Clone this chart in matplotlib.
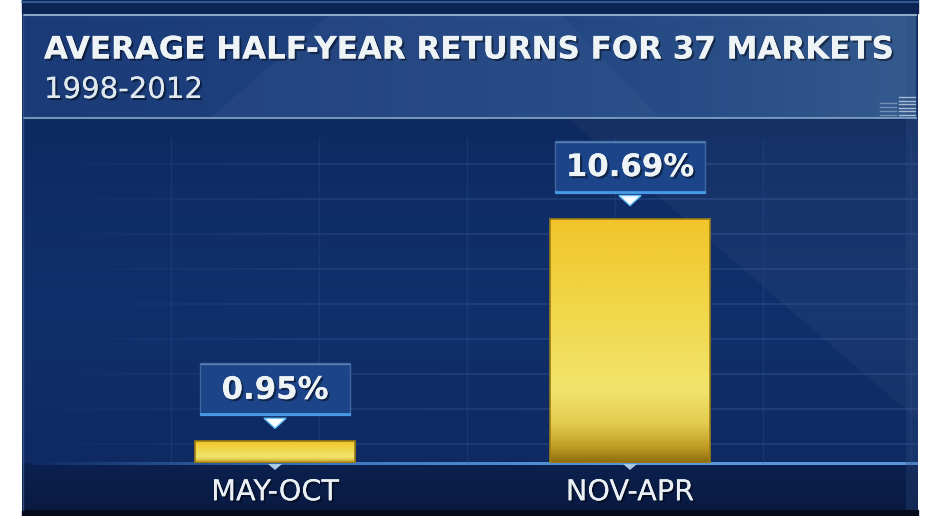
import numpy as np
import matplotlib
matplotlib.use("Agg")
import matplotlib.pyplot as plt
from matplotlib.colors import LinearSegmentedColormap
from matplotlib.patches import Rectangle, Polygon
import matplotlib.patheffects as pe

# data
categories = ["MAY-OCT", "NOV-APR"]
returns = [0.95, 10.69]
title = "AVERAGE HALF-YEAR RETURNS FOR 37 MARKETS"
subtitle = "1998-2012"

W, H = 939, 516
fig = plt.figure(figsize=(W / 100, H / 100), dpi=100, facecolor="white")

# background layer in pixel coords (y down)
bg = fig.add_axes([0, 0, 1, 1])
bg.set_xlim(0, W)
bg.set_ylim(H, 0)
bg.axis("off")


def vgrad(ax, x0, x1, y0, y1, colors, **kw):
    cm = LinearSegmentedColormap.from_list("g", colors)
    g = np.linspace(0, 1, 256).reshape(-1, 1)
    return ax.imshow(g, extent=(x0, x1, y1, y0), cmap=cm, aspect="auto",
                     origin="upper", interpolation="bilinear", **kw)


def hgrad(ax, x0, x1, y0, y1, colors, **kw):
    cm = LinearSegmentedColormap.from_list("h", colors)
    g = np.linspace(0, 1, 256).reshape(1, -1)
    return ax.imshow(g, extent=(x0, x1, y1, y0), cmap=cm, aspect="auto",
                     origin="upper", interpolation="bilinear", **kw)


# navy panel
vgrad(bg, 22, 918, 0, 463, ["#0b2250", "#0f2b63", "#11306b", "#0f2a62"])
vgrad(bg, 22, 918, 463, 510, ["#0c2150", "#091a42"])
bg.add_patch(Rectangle((22, 510), 896, 6, color="#050c1e"))
# light beam on the right
bg.add_patch(Polygon([(570, 120), (918, 120), (918, 420)],
                     closed=True, color="white", alpha=0.035, lw=0))
# top band
bg.add_patch(Rectangle((22, 0), 896, 13, color="#0c2455"))
bg.plot([22, 918], [2, 2], color="#3f70a8", lw=1.5, alpha=0.7)

# header panel
hgrad(bg, 24, 916, 14, 118, ["#1b3b78", "#1d407d", "#244984", "#34598d"])
bg.add_patch(Polygon([(330, 14), (560, 14), (660, 118), (210, 118)],
                     closed=True, color="white", alpha=0.03, lw=0))
bg.plot([24, 916], [15, 15], color="#a8c4dc", lw=1.5, alpha=0.8)
bg.plot([24, 916], [118, 118], color="#7da0c4", lw=1.5, alpha=0.9)
bg.plot([23, 23], [14, 510], color="#4c6e9c", lw=1, alpha=0.6)
bg.add_patch(Rectangle((906, 14), 12, 496, color="#2c4c80", alpha=0.3, lw=0))
# little bar icon in the corner
for k in range(4):
    bg.plot([880, 896], [103 + 4 * k, 103 + 4 * k], color="#9fb6cf", lw=1, alpha=0.6)
for k in range(6):
    bg.plot([899, 915], [97 + 3.5 * k, 97 + 3.5 * k], color="#c5d6e6", lw=1, alpha=0.8)

shadow = [pe.withSimplePatchShadow(offset=(1.5, -1.5), shadow_rgbFace="black", alpha=0.45),
          pe.Normal()]
bg.text(44, 50, title, color="#eef3f6", fontsize=22.3, fontweight="bold",
        family="DejaVu Sans", va="center", ha="left", path_effects=shadow)
bg.text(44, 90, subtitle, color="#dfe8ee", fontsize=21, family="DejaVu Sans",
        va="center", ha="left", path_effects=shadow)

# grid (decorative, fades out on the left)
for gy in np.arange(164, 463, 35):
    hgrad(bg, 22, 918, gy - 0.6, gy + 0.6, ["#0f2b63", "#2a4c88", "#2f5290", "#2f5290"],
          alpha=0.45)
for gx in np.arange(171, 918, 148):
    bg.plot([gx, gx], [138, 463], color="#2f5290", lw=1, alpha=0.3)

# baseline glow
hgrad(bg, 30, 918, 462, 465, ["#0f2a62", "#3d78c0", "#5a96d8", "#5a96d8"])

# chart axes
ax = fig.add_axes([22 / W, (H - 463) / H, 896 / W, 343 / H])
ax.patch.set_alpha(0)
x = np.arange(len(categories))
bar_w = 160 / 355
xlim = (-253 / 355, 1 + 288 / 355)
ylim = (0, 15)

bars = ax.bar(x, returns, width=bar_w, color="none", edgecolor="#9c7c16",
              linewidth=1.2, zorder=3)
bar_cm = LinearSegmentedColormap.from_list(
    "bar", [(0, "#f1c52a"), (0.4, "#f1d84c"), (0.7, "#f1e46d"), (0.84, "#e3cc50"),
            (0.94, "#bf9a22"), (1, "#8c6c10")])
grad = np.linspace(0, 1, 256).reshape(-1, 1)
for xi, v, patch in zip(x, returns, bars):
    im = ax.imshow(grad, extent=(xi - bar_w / 2, xi + bar_w / 2, 0, v), cmap=bar_cm,
                   aspect="auto", origin="upper", zorder=2)
    im.set_clip_path(patch)

ax.set_xlim(*xlim)
ax.set_ylim(*ylim)
for s in ax.spines.values():
    s.set_visible(False)
ax.set_yticks([])
ax.set_xticks(x)
ax.set_xticklabels(categories, fontsize=20.7, color="#eaf0f4", family="DejaVu Sans")
ax.tick_params(axis="x", length=0, pad=11)
for t in ax.get_xticklabels():
    t.set_path_effects(shadow)

# value call-outs, positioned from the bar tops
for xi, v in zip(x, returns):
    dx, dy = ax.transData.transform((xi, v))
    cx, ty = dx, H - dy
    by = ty - 52
    bg.add_patch(Rectangle((cx - 75, by - 26), 150, 52, facecolor="#1c4488",
                           edgecolor="#3f66a0", lw=1, zorder=4))
    bg.plot([cx - 74, cx + 74], [by + 25, by + 25], color="#4fb0ff", lw=2, alpha=0.8, zorder=5)
    bg.plot([cx - 74, cx + 74], [by - 25, by - 25], color="#7fa6d0", lw=1, alpha=0.6, zorder=5)
    bg.add_patch(Polygon([(cx - 11, by + 29), (cx + 11, by + 29), (cx, by + 39)],
                         closed=True, facecolor="white", edgecolor="#6cc4ff", lw=1, zorder=5))
    bg.text(cx, by + 1, f"{v:.2f}%", color="#eef3f6", fontsize=22.2, fontweight="bold",
            family="DejaVu Sans", ha="center", va="center", zorder=6, path_effects=shadow)
    # small marker under the baseline
    bx, bby = ax.transData.transform((xi, 0))
    bby = H - bby
    bg.add_patch(Polygon([(bx - 7, bby + 1), (bx + 7, bby + 1), (bx, bby + 7)],
                         closed=True, color="#a9c8e2", lw=0, zorder=5))

fig.savefig("out.png", dpi=100, facecolor="white")
